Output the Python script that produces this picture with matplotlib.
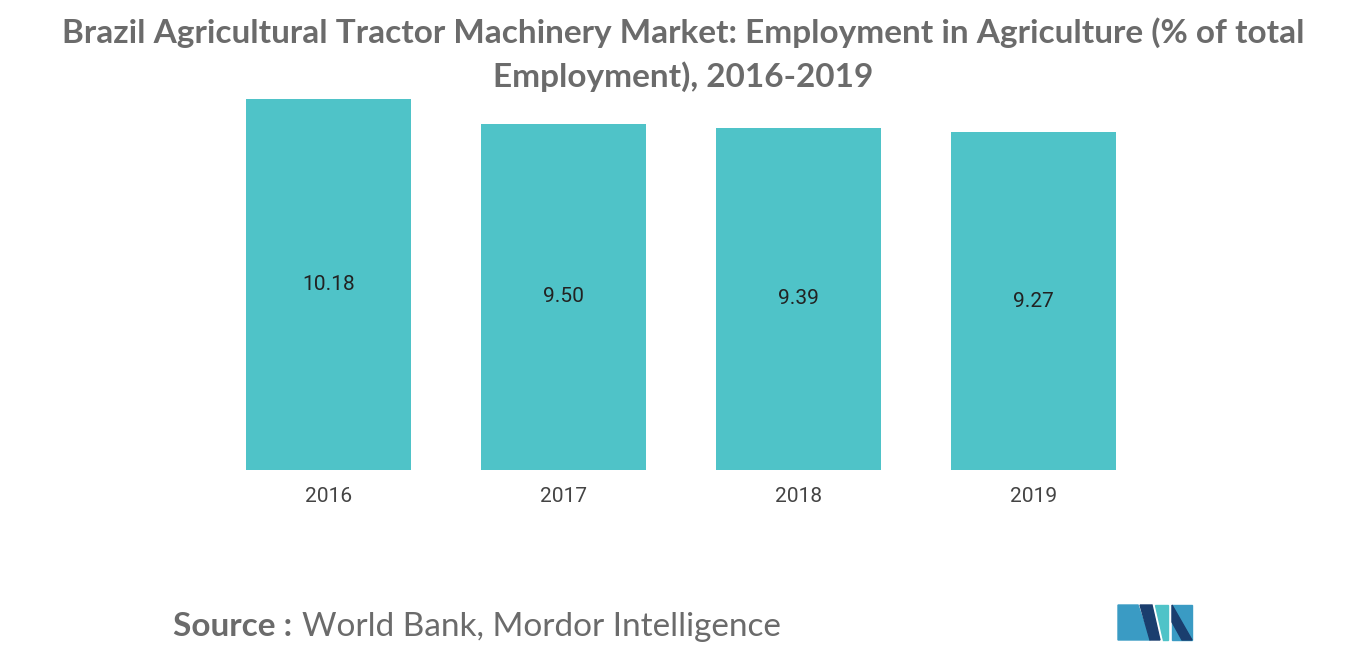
import matplotlib
matplotlib.use("Agg")
import matplotlib.pyplot as plt
from matplotlib.patches import Polygon

years = ["2016", "2017", "2018", "2019"]
values = [10.18, 9.50, 9.39, 9.27]
value_labels = ["10.18", "9.50", "9.39", "9.27"]

W, H = 1366, 655
fig = plt.figure(figsize=(W/100, H/100), dpi=100)
ax = fig.add_axes([211/W, 1-470/H, 940/W, 371/H])
x = range(len(years))
ax.bar(x, values, width=165/235, color="#4fc3c8")
for i, (v, lab) in enumerate(zip(values, value_labels)):
    ax.text(i, v/2, lab, ha="center", va="center", fontsize=15, color="#222222", family="Roboto")
ax.set_xlim(-0.5, 3.5)
ax.set_ylim(0, 10.18)
ax.set_xticks(list(x))
ax.set_xticklabels(years, fontsize=15, color="#444444", family="Roboto")
ax.tick_params(axis="x", length=0, pad=12)
ax.set_yticks([])
for s in ax.spines.values():
    s.set_visible(False)

fig.text(0.5, 1-33/H, "Brazil Agricultural Tractor Machinery Market: Employment in Agriculture (% of total",
         ha="center", va="center", fontsize=24, fontweight="bold", color="#6b6b6b", family="Lato")
fig.text(0.5, 1-77/H, "Employment), 2016-2019",
         ha="center", va="center", fontsize=24, fontweight="bold", color="#6b6b6b", family="Lato")
fig.text(173/W, 1-627/H, "Source :", ha="left", va="center", fontsize=24, fontweight="bold",
         color="#6b6b6b", family="Lato")
fig.text(302/W, 1-627/H, "World Bank, Mordor Intelligence", ha="left", va="center", fontsize=24,
         color="#6b6b6b", family="Lato")

def P(pts, c):
    fig.patches.append(Polygon([(px/W, 1-py/H) for px, py in pts], closed=True,
                               transform=fig.transFigure, color=c))
P([(1118, 640), (1118, 605), (1138, 605), (1150, 640)], "#3a9bc4")
P([(1140, 605), (1152, 605), (1160, 640), (1150, 640)], "#1a3e6e")
P([(1155, 605), (1168, 605), (1168, 640), (1163, 640)], "#4fc3c8")
P([(1172, 605), (1192, 605), (1192, 640), (1172, 640)], "#3a9bc4")
P([(1172, 605), (1192, 640), (1182, 640), (1172, 622)], "#1a3e6e")

fig.savefig("out.png", dpi=100)
